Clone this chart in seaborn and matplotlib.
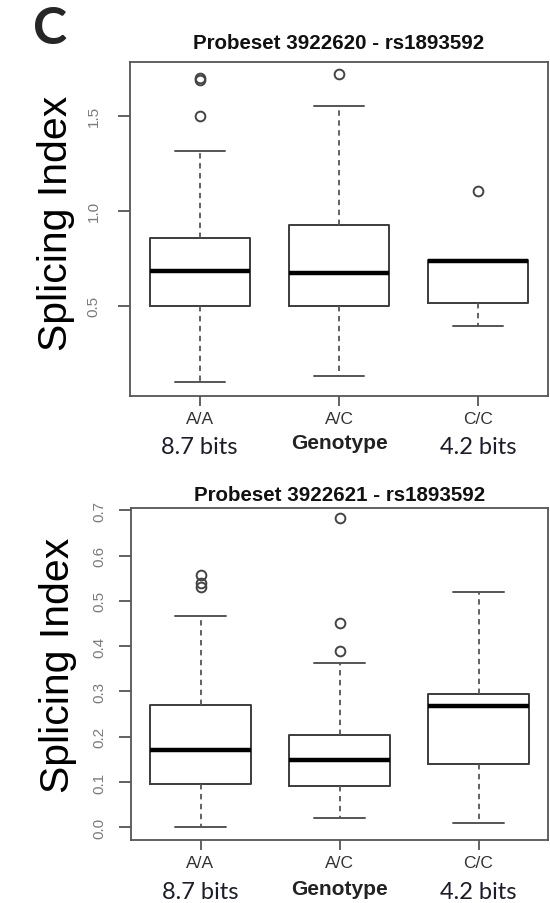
import numpy as np
import pandas as pd
import matplotlib
matplotlib.use("Agg")
import matplotlib.pyplot as plt
import matplotlib.transforms as mtransforms
import seaborn as sns

# ---------------- data ----------------
genotypes = ["A/A", "A/C", "C/C"]
bits_labels = ["8.7 bits", "", "4.2 bits"]

top_title = "Probeset 3922620 - rs1893592"
top_q1 = [0.500, 0.500, 0.515]
top_med = [0.685, 0.672, 0.735]
top_q3 = [0.855, 0.926, 0.740]
top_lo = [0.097, 0.132, 0.395]
top_hi = [1.314, 1.551, 0.740]
top_fliers = [[1.498, 1.686, 1.700], [1.720], [1.105]]
top_yticks = [0.5, 1.0, 1.5]
top_ytick_labels = ["0.5", "1.0", "1.5"]

bot_title = "Probeset 3922621 - rs1893592"
bot_q1 = [0.096, 0.091, 0.140]
bot_med = [0.171, 0.148, 0.267]
bot_q3 = [0.271, 0.204, 0.294]
bot_lo = [0.000, 0.020, 0.010]
bot_hi = [0.467, 0.362, 0.520]
bot_fliers = [[0.530, 0.540, 0.557], [0.389, 0.451, 0.682], []]
bot_yticks = [0.0, 0.1, 0.2, 0.3, 0.4, 0.5, 0.6, 0.7]
bot_ytick_labels = ["0.0", "0.1", "0.2", "0.3", "0.4", "0.5", "0.6", "0.7"]

ylabel = "Splicing Index"
xlabel = "Genotype"
panel_letter = "C"

# ---------------- style ----------------
sns.set_theme(style="white")
plt.rcParams["font.family"] = ["Liberation Sans", "DejaVu Sans"]

W, H = 550, 904
fig = plt.figure(figsize=(W / 100, H / 100), dpi=100)
fig.patch.set_facecolor("white")

edge = "#3c3c3c"
grey = "#555555"


def px_axes(l, t, r, b):
    return fig.add_axes([l / W, 1 - b / H, (r - l) / W, (b - t) / H])


def draw_panel(ax, title, q1, med, q3, lo, hi, fliers, yticks, yticklabels,
               ylim, ypad, label_xy, bits_y, geno_y, title_pad):
    df = pd.DataFrame({"genotype": genotypes, "q1": q1, "med": med, "q3": q3,
                       "lo": lo, "hi": hi})
    stats = []
    for i, row in df.iterrows():
        stats.append(dict(label=row["genotype"], q1=row["q1"], med=row["med"],
                          q3=row["q3"], whislo=row["lo"], whishi=row["hi"],
                          fliers=np.array(fliers[i])))
    ax.bxp(stats, positions=[1, 2, 3], widths=0.72, showfliers=True,
           boxprops=dict(color=edge, linewidth=1.4),
           medianprops=dict(color="black", linewidth=3.2, solid_capstyle="butt"),
           whiskerprops=dict(color=grey, linewidth=1.3, linestyle=(0, (3, 2.5))),
           capprops=dict(color=grey, linewidth=1.4),
           capwidths=0.36,
           flierprops=dict(marker="o", markersize=7, markerfacecolor="none",
                           markeredgecolor="#444444", markeredgewidth=1.4))
    ax.set_xlim(0.5, 3.5)
    ax.set_ylim(*ylim)
    ax.set_facecolor("white")
    for s in ax.spines.values():
        s.set_visible(True)
        s.set_color(grey)
        s.set_linewidth(1.3)
    ax.set_yticks(yticks)
    ax.set_yticklabels(yticklabels, rotation=90, va="center",
                       fontsize=11, color="#7a7a7a")
    ax.set_xticks([1, 2, 3])
    ax.set_xticklabels(genotypes, fontsize=12.5, color="#333333")
    ax.tick_params(axis="y", length=9, width=1.3, color=grey, pad=ypad,
                   left=True)
    ax.tick_params(axis="x", length=7, width=1.3, color=grey, pad=4,
                   bottom=True)
    ax.set_title(title, fontsize=14.8, fontweight="bold", color="#111111",
                 pad=title_pad)
    ax.set_ylabel(ylabel, fontsize=29.5, color="black")
    ax.yaxis.set_label_coords(*label_xy)
    tr = mtransforms.blended_transform_factory(ax.transData, ax.transAxes)
    for x, b in zip([1, 2, 3], bits_labels):
        if b:
            ax.text(x, bits_y, b, transform=tr, ha="center", va="center",
                    fontsize=17, color="#1c1c2a", family=["Lato", "DejaVu Sans"])
    ax.text(2, geno_y, xlabel, transform=tr, ha="center", va="center",
            fontsize=15, fontweight="bold", color="#222222")


ax1 = px_axes(130, 63, 548, 397)
draw_panel(ax1, top_title, top_q1, top_med, top_q3, top_lo, top_hi,
           top_fliers, top_yticks, top_ytick_labels, (0.025, 1.783), 12,
           (-0.132, 0.521), -0.150, -0.138, 10)

ax2 = px_axes(131, 509, 548, 841)
draw_panel(ax2, bot_title, bot_q1, bot_med, bot_q3, bot_lo, bot_hi,
           bot_fliers, bot_yticks, bot_ytick_labels, (-0.028, 0.705), 9,
           (-0.130, 0.530), -0.154, -0.145, 6)

fig.text(50 / W, 1 - 30 / H, panel_letter, fontsize=37, fontweight="bold",
         ha="center", va="center", family=["Lato", "DejaVu Sans"])

fig.savefig("out.png", dpi=100, facecolor="white")
